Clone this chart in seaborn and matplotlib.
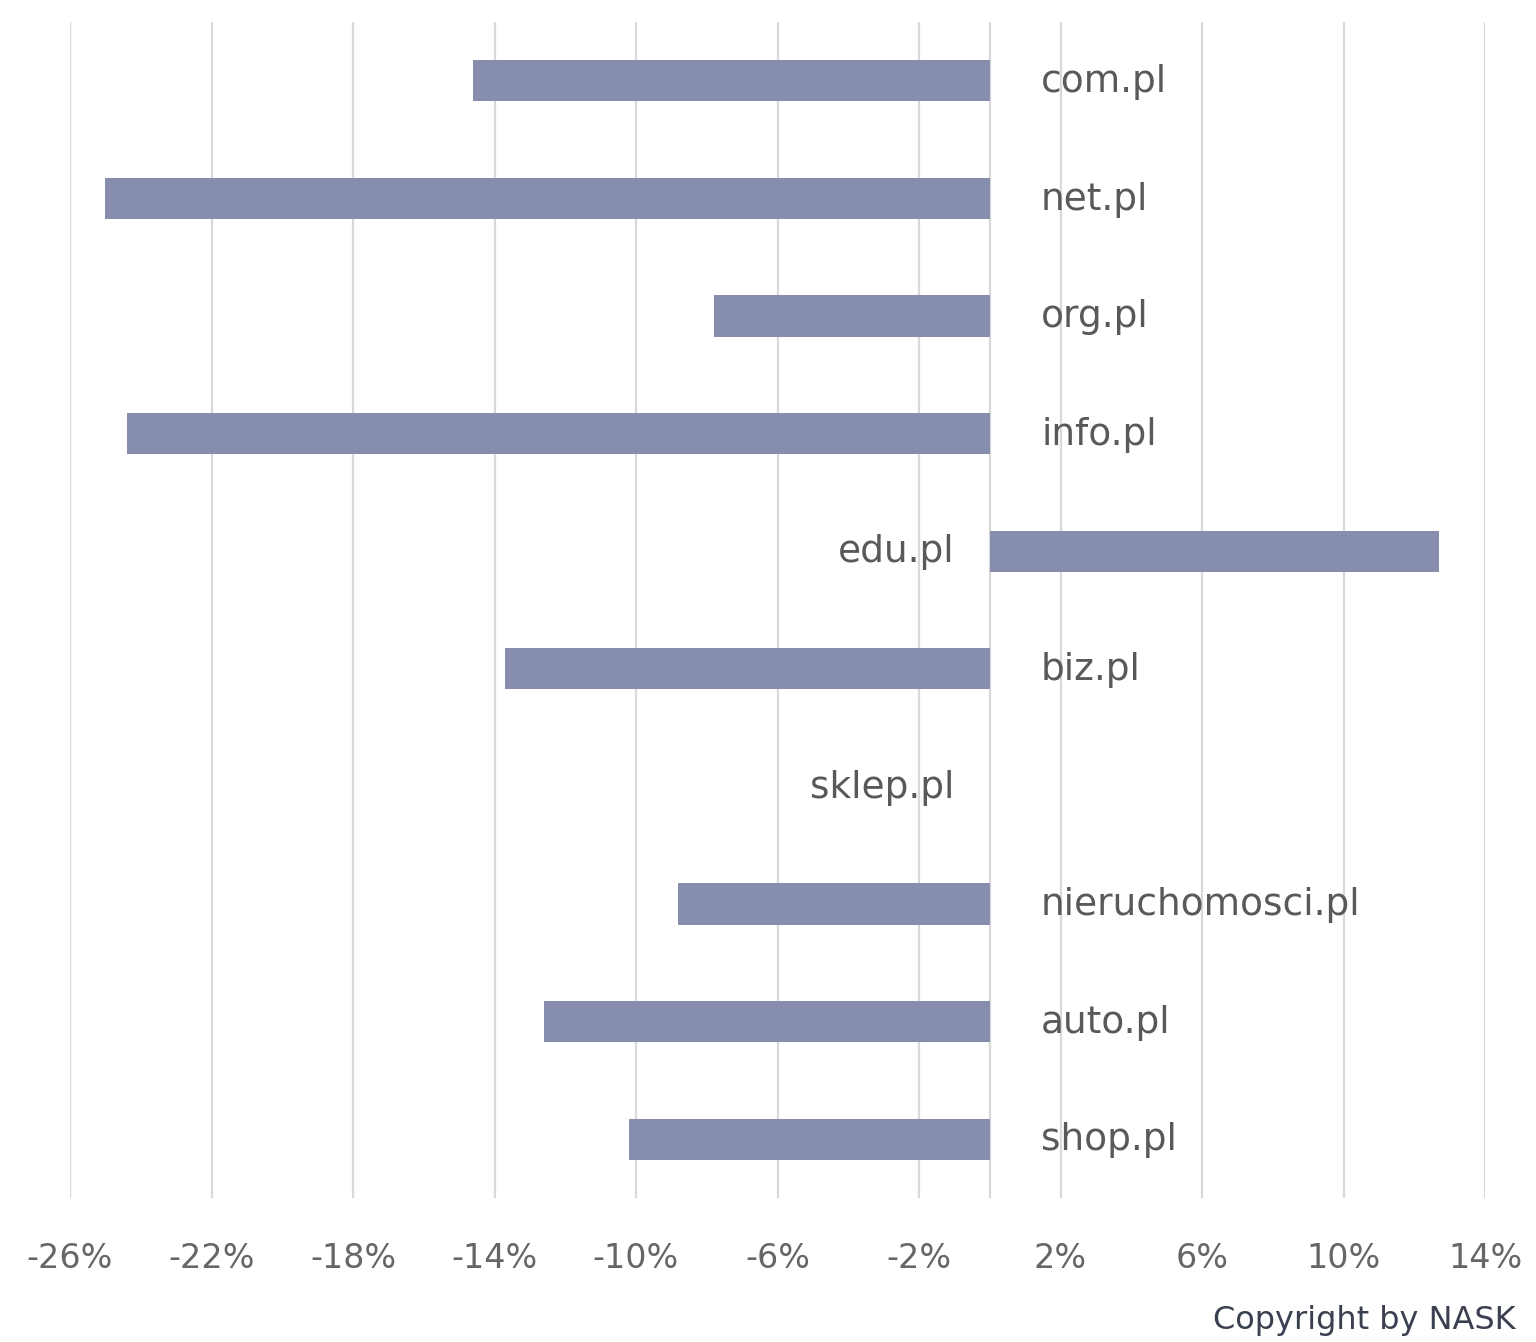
import numpy as np
import pandas as pd
import matplotlib
matplotlib.use('Agg')
import matplotlib.pyplot as plt
import seaborn as sns

# data
domains = ['com.pl', 'net.pl', 'org.pl', 'info.pl', 'edu.pl', 'biz.pl',
           'sklep.pl', 'nieruchomosci.pl', 'auto.pl', 'shop.pl']
change = [-14.6, -25.0, -7.8, -24.4, 12.7, -13.7, 0.0, -8.8, -12.6, -10.2]
ticks = [-26, -22, -18, -14, -10, -6, -2, 2, 6, 10, 14]

df = pd.DataFrame({'domain': domains, 'change': change})

sns.set_style('white')
plt.rcParams['font.family'] = ['DejaVu Sans']

fig = plt.figure(figsize=(15.36, 13.42), dpi=100)
ax = fig.add_axes([70 / 1536, 1 - 1198 / 1342, (1485 - 70) / 1536, (1198 - 22) / 1342])

sns.barplot(data=df, x='change', y='domain', orient='h', color='#878dad',
            saturation=1, width=0.35, linewidth=0, ax=ax)

ax.set_xlim(-26, 14)
ax.set_ylim(9.5, -0.5)
ax.set_xticks(ticks)
ax.set_xticklabels([f'{t}%' for t in ticks])
ax.tick_params(axis='x', length=0, pad=32, labelsize=24, labelcolor='#666666')
ax.set_yticks([])
ax.set_xlabel('')
ax.set_ylabel('')
for t in ticks + [0]:
    ax.axvline(t, color='#d9d9d9', lw=1.6, zorder=0)
for s in ax.spines.values():
    s.set_visible(False)

# labels next to the zero line, on the side away from the bar
for i, (d, v) in enumerate(zip(domains, change)):
    if v < 0:
        ax.text(1.45, i + 0.01, d, ha='left', va='center', fontsize=27, color='#595959')
    else:
        ax.text(-1.0, i + 0.01, d, ha='right', va='center', fontsize=27, color='#595959')

fig.text(1516 / 1536, 1 - 1320 / 1342, 'Copyright by NASK', ha='right', va='center',
         fontsize=23, color='#3b4050')

fig.savefig('out.png', dpi=100)
